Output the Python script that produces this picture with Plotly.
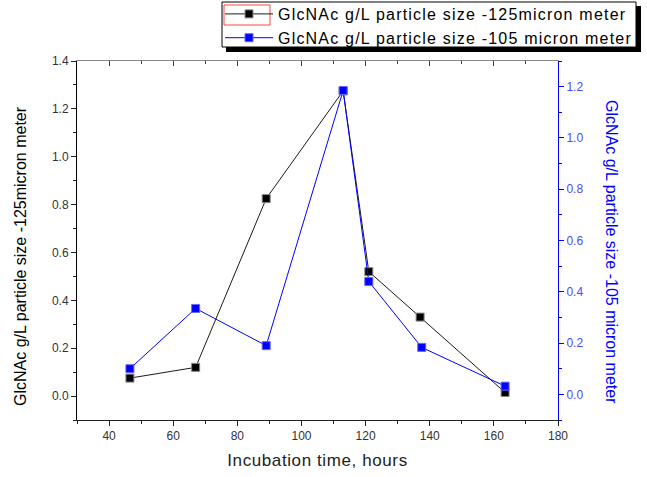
import plotly.graph_objects as go

hours_125 = [46.5, 67, 89, 113, 121, 137, 163.5]
glc_125 = [0.075, 0.12, 0.825, 1.275, 0.52, 0.33, 0.015]
hours_105 = [46.5, 67, 89, 113, 121, 137.5, 163.5]
glc_105 = [0.10, 0.335, 0.19, 1.185, 0.44, 0.183, 0.032]

name_125 = "GlcNAc g/L particle size -125micron meter"
name_105 = "GlcNAc g/L particle size -105 micron meter"
x_title = "Incubation time, hours"

W, H = 647, 477
L, R, T, B = 77, 558, 61, 420

def px(x):
    return (x - L) / (R - L)

def py(y):
    return (B - y) / (B - T)

def spaced(s, sp):
    return "<span style='letter-spacing:%spx'>%s</span>" % (sp, s)

fig = go.Figure()
fig.add_trace(go.Scatter(
    x=hours_125, y=glc_125, name=spaced(name_125, 1.2), mode="lines+markers",
    line=dict(color="#1a1a1a", width=1),
    marker=dict(symbol="square", size=8, color="black", line=dict(color="#888888", width=1)),
))
fig.add_trace(go.Scatter(
    x=hours_105, y=glc_105, name=spaced(name_105, 1.2), mode="lines+markers", yaxis="y2",
    line=dict(color="#0000ff", width=1),
    marker=dict(symbol="square", size=8, color="#0000ff", line=dict(color="#6666ff", width=1)),
))
# invisible trace to activate top axis
fig.add_trace(go.Scatter(x=[None], y=[None], xaxis="x2", showlegend=False, hoverinfo="skip"))

tickfont = dict(family="Liberation Sans, Arial", size=12, color="#333333")

fig.update_layout(
    width=W, height=H,
    margin=dict(l=L, r=W - R, t=T, b=H - B, autoexpand=False),
    paper_bgcolor="white", plot_bgcolor="white",
    font=dict(family="Liberation Sans, Arial", color="black"),
    showlegend=True,
    legend=dict(
        x=px(220), y=py(-3), xanchor="left", yanchor="top",
        bgcolor="rgba(0,0,0,0)", borderwidth=0,
        font=dict(size=16, color="black", family="Liberation Sans, Arial"),
        itemwidth=48, tracegroupgap=0,
    ),
    xaxis=dict(
        range=[30, 180], dtick=20, tick0=0, showgrid=False, zeroline=False,
        showline=True, linecolor="#222222", linewidth=1,
        ticks="outside", ticklen=5, tickcolor="#222222",
        minor=dict(dtick=10, ticks="outside", ticklen=3, tickcolor="#222222", showgrid=False),
        tickfont=tickfont,
        title=dict(text=spaced(x_title, 0.6), font=dict(size=17, color="#222222"), standoff=11),
    ),
    xaxis2=dict(
        range=[30, 180], dtick=20, overlaying="x", side="top", anchor="y",
        showgrid=False, zeroline=False, showline=True, linecolor="#888888",
        ticks="inside", ticklen=5, tickcolor="#444444", showticklabels=False,
        minor=dict(dtick=10, ticks="inside", ticklen=3, tickcolor="#444444", showgrid=False),
    ),
    yaxis=dict(
        range=[-0.1, 1.4], dtick=0.2, tick0=0, tickformat=".1f", showgrid=False, zeroline=False,
        showline=True, linecolor="black", linewidth=1,
        ticks="outside", ticklen=5, tickcolor="#222222",
        minor=dict(dtick=0.1, ticks="outside", ticklen=3, tickcolor="#222222", showgrid=False),
        tickfont=tickfont,
    ),
    yaxis2=dict(
        range=[-0.1, 1.3], dtick=0.2, tick0=0, tickformat=".1f", overlaying="y", side="right",
        showgrid=False, zeroline=False, showline=True, linecolor="#0000ff", linewidth=1,
        ticks="outside", ticklen=5, tickcolor="#0000ff",
        minor=dict(dtick=0.1, ticks="outside", ticklen=3, tickcolor="#0000ff", showgrid=False),
        tickfont=dict(family="Liberation Sans, Arial", size=12, color="#4a4aff"),
    ),
    shapes=[
        dict(type="rect", xref="paper", yref="paper",
             x0=px(226), x1=px(641), y0=py(52), y1=py(6),
             fillcolor="black", line=dict(width=0), layer="above"),
        dict(type="rect", xref="paper", yref="paper",
             x0=px(222), x1=px(636), y0=py(47), y1=py(2),
             fillcolor="white", line=dict(color="black", width=1), layer="above"),
        dict(type="rect", xref="paper", yref="paper",
             x0=px(224), x1=px(270), y0=py(25), y1=py(5),
             line=dict(color="#ff4444", width=1), fillcolor="rgba(0,0,0,0)", layer="above"),
    ],
    annotations=[
        dict(text=name_125, xref="paper", yref="paper", x=px(20), y=py(256),
             textangle=-90, showarrow=False, xanchor="center", yanchor="middle",
             font=dict(size=16, color="black", family="Liberation Sans, Arial")),
        dict(text=name_105, xref="paper", yref="paper", x=px(612), y=py(252),
             textangle=90, showarrow=False, xanchor="center", yanchor="middle",
             font=dict(size=16, color="#0000ff", family="Liberation Sans, Arial")),
    ],
)

fig.write_html("out.html", config={"displayModeBar": False},
               post_script="document.body.style.margin='0';document.body.style.overflow='hidden';")
